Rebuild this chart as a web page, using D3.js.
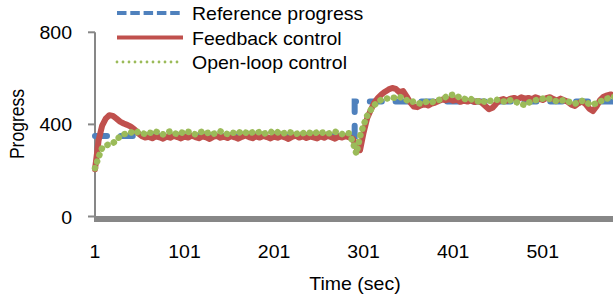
<!DOCTYPE html>
<html><head><meta charset="utf-8">
<script src="https://cdn.jsdelivr.net/npm/d3@7"></script>
<style>body{margin:0;background:#fff}text{font-family:"Liberation Sans",Arial,sans-serif;fill:#000}</style>
</head><body><div id="chart"></div>
<script>
const seriesNames = ["Reference progress", "Feedback control", "Open-loop control"];
const xTicks = [1, 101, 201, 301, 401, 501];
const yTicks = [0, 400, 800];
const sampleTimes = d3.range(1, 582, 4);
const refTimes = [1, 291, 291, 581];
const refValues = [350, 350, 500, 500];
const feedback = [
205,330,395,425,440,437,425,412,404,398,
390,378,362,350,343,346,340,348,344,338,
347,342,350,345,339,347,343,351,345,340,
348,344,337,346,350,342,347,341,349,344,
338,346,352,345,340,348,343,350,345,339,
347,342,349,344,337,346,351,343,348,341,
347,344,339,348,342,350,344,338,347,343,
349,344,338,298,288,365,428,462,495,515,
530,542,552,558,554,540,545,522,496,478,
475,483,488,482,490,495,502,508,505,510,
503,507,498,503,499,505,497,502,494,480,
466,472,490,505,510,503,512,515,509,518,
512,515,510,518,512,506,514,518,510,504,
512,505,498,486,480,492,500,488,468,458,
478,505,520,526,530,525];
const openLoop = [
210,258,298,308,314,318,333,348,357,362,
366,360,368,363,358,366,361,369,362,357,
365,370,362,358,366,361,368,363,357,365,
369,361,366,359,364,370,362,358,366,362,
369,360,365,358,366,362,368,359,364,369,
361,366,358,363,369,362,357,365,361,368,
363,358,366,361,367,360,364,369,362,358,
364,361,322,272,348,398,438,463,484,498,
508,511,514,517,515,520,513,506,496,500,
494,490,496,500,496,502,506,512,520,525,
530,524,515,512,506,510,502,500,506,495,
500,505,508,504,500,498,505,500,495,488,
484,494,500,505,508,512,516,510,505,500,
502,506,500,494,490,496,502,498,488,486,
492,500,505,512,518,520];
const colors = ["#4F81BD", "#C0504D", "#9BBB59"];

const W = 613, H = 300;
const svg = d3.select("#chart").append("svg").attr("width", W).attr("height", H);
const x = d3.scaleLinear().domain([1, 501]).range([95, 542.7]);
const y = d3.scaleLinear().domain([0, 800]).range([216.5, 32.3]);
const FS = 19.5, SQ = 0.9;

function label(px, py, str, anchor, size, rot) {
  return svg.append("text")
    .attr("transform", `translate(${px},${py}) scale(1,${SQ})` + (rot ? " rotate(-90)" : ""))
    .attr("text-anchor", anchor).style("font-size", size + "px").text(str);
}

// axes
const axisColor = "#878787";
svg.append("line").attr("x1", 95).attr("x2", 95).attr("y1", y(800)).attr("y2", y(0))
  .attr("stroke", axisColor).attr("stroke-width", 2);
yTicks.forEach(v => {
  svg.append("line").attr("x1", 88).attr("x2", 95).attr("y1", y(v)).attr("y2", y(v))
    .attr("stroke", axisColor).attr("stroke-width", 2);
  label(72, y(v) + 7, String(v), "end", FS);
});
svg.append("rect").attr("x", 94).attr("y", y(0) - 0.5).attr("width", W - 94).attr("height", 6)
  .attr("fill", axisColor);
xTicks.forEach(t => label(x(t), 257.7, String(t), "middle", FS));
label(355, 290, "Time (sec)", "middle", FS);
label(24, 124, "Progress", "middle", FS, true);

// series
const line = d3.line().x(d => x(d[0])).y(d => y(d[1]));
const refData = refTimes.map((t, i) => [t, refValues[i]]);
const fbData = sampleTimes.map((t, i) => [t, feedback[i]]).filter(d => d[1] !== undefined);
const olData = sampleTimes.map((t, i) => [t, openLoop[i]]).filter(d => d[1] !== undefined);

svg.append("path").datum(refData).attr("d", line).attr("fill", "none")
  .attr("stroke", colors[0]).attr("stroke-width", 6).attr("stroke-linecap", "round")
  .attr("stroke-dasharray", "12 13.78");
svg.append("path").datum(fbData).attr("d", line).attr("fill", "none")
  .attr("stroke", colors[1]).attr("stroke-width", 6).attr("stroke-linejoin", "round")
  .attr("stroke-linecap", "round");
svg.append("path").datum(olData).attr("d", line).attr("fill", "none")
  .attr("stroke", colors[2]).attr("stroke-width", 6.5).attr("stroke-linecap", "round")
  .attr("stroke-dasharray", "0.1 6.8");

// legend
const legY = [13, 37.5, 62];
const legStyles = [
  {w: 4, dash: "9.5 3.8", cap: "butt"},
  {w: 4, dash: null, cap: "butt"},
  {w: 2.8, dash: "0 6", cap: "round"}
];
seriesNames.forEach((name, i) => {
  const l = svg.append("line").attr("x1", 117).attr("x2", 183).attr("y1", legY[i]).attr("y2", legY[i])
    .attr("stroke", colors[i]).attr("stroke-width", legStyles[i].w).attr("stroke-linecap", legStyles[i].cap);
  if (legStyles[i].dash) l.attr("stroke-dasharray", legStyles[i].dash);
  label(192, legY[i] + 7, name, "start", FS);
});
</script></body></html>
